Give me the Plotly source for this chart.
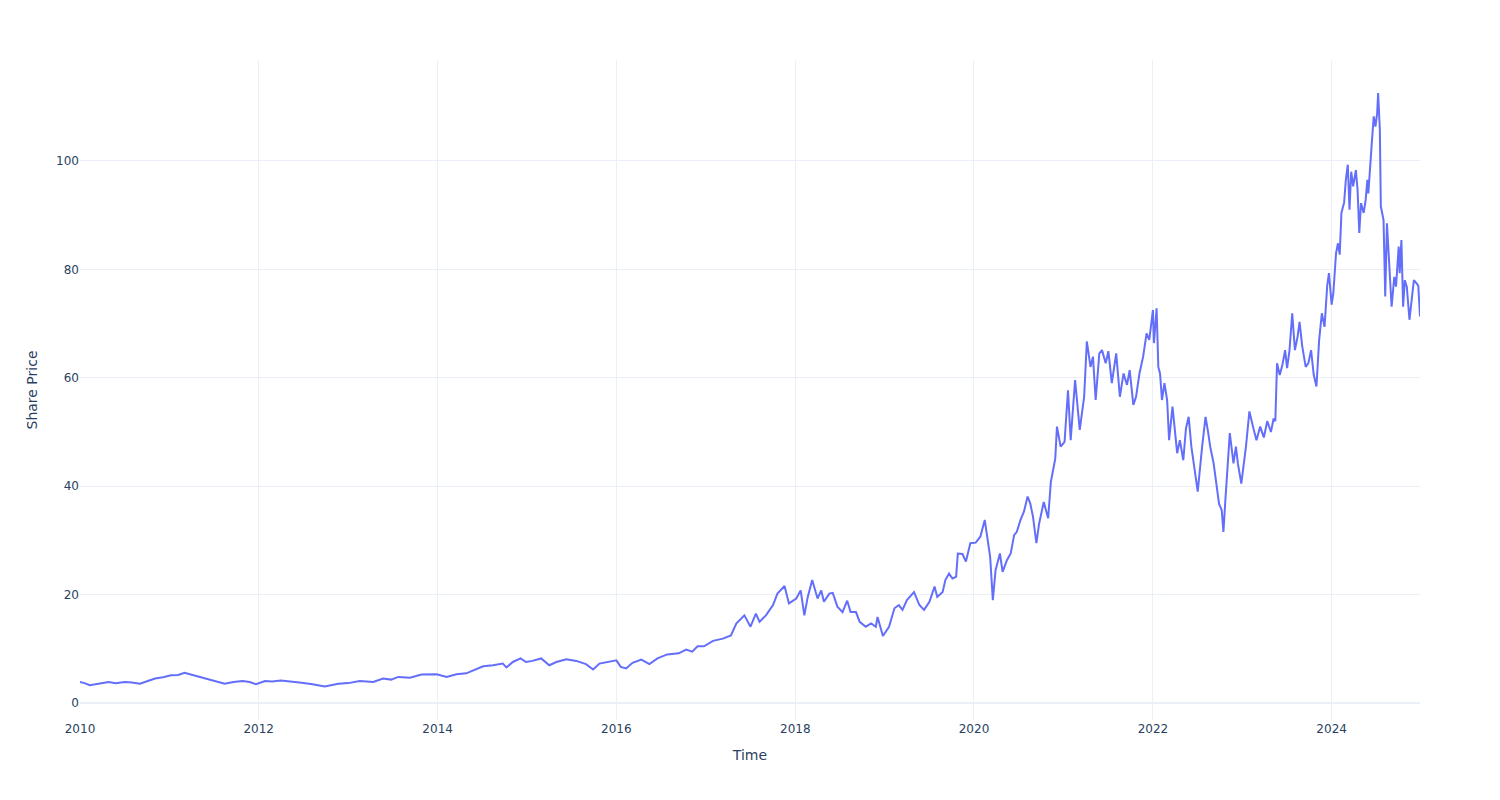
import plotly.graph_objects as go

dates = [
    "2010-01-01", "2010-01-19", "2010-02-10", "2010-03-15", "2010-04-28", "2010-05-27",
    "2010-07-02", "2010-08-01", "2010-09-03", "2010-10-05", "2010-11-04", "2010-12-06",
    "2011-01-08", "2011-02-06", "2011-03-04", "2011-04-10", "2011-05-08", "2011-06-07",
    "2011-07-09", "2011-08-15", "2011-09-20", "2011-10-27", "2011-11-25", "2011-12-21",
    "2012-01-27", "2012-02-25", "2012-04-01", "2012-05-15", "2012-06-24", "2012-08-08",
    "2012-09-27", "2012-11-21", "2013-01-01", "2013-02-17", "2013-04-13", "2013-05-23",
    "2013-06-25", "2013-07-24", "2013-09-10", "2013-10-27", "2013-12-28", "2014-02-07",
    "2014-03-19", "2014-04-28", "2014-05-23", "2014-07-06", "2014-08-15", "2014-09-24",
    "2014-10-09", "2014-11-04", "2014-12-06", "2014-12-28", "2015-01-23", "2015-02-28",
    "2015-04-02", "2015-05-01", "2015-06-11", "2015-07-21", "2015-08-30", "2015-09-28",
    "2015-10-24", "2015-12-03", "2016-01-01", "2016-01-19", "2016-02-10", "2016-03-07",
    "2016-04-12", "2016-05-15", "2016-06-17", "2016-07-27", "2016-09-12", "2016-10-12",
    "2016-11-06", "2016-11-28", "2016-12-24", "2017-01-30", "2017-03-11", "2017-04-13",
    "2017-05-05", "2017-06-07", "2017-07-02", "2017-07-24", "2017-08-08", "2017-09-03",
    "2017-10-02", "2017-10-20", "2017-11-18", "2017-12-06", "2018-01-05", "2018-01-23",
    "2018-02-07", "2018-02-21", "2018-03-11", "2018-04-02", "2018-04-17", "2018-04-28",
    "2018-05-20", "2018-06-03", "2018-06-22", "2018-07-13", "2018-08-01", "2018-08-15",
    "2018-09-06", "2018-09-21", "2018-10-16", "2018-11-07", "2018-11-26", "2018-12-03",
    "2018-12-25", "2019-01-19", "2019-02-10", "2019-02-28", "2019-03-15", "2019-04-02",
    "2019-05-01", "2019-05-23", "2019-06-11", "2019-07-03", "2019-07-24", "2019-08-04",
    "2019-08-26", "2019-09-06", "2019-09-21", "2019-10-05", "2019-10-20", "2019-10-27",
    "2019-11-15", "2019-11-29", "2019-12-17", "2020-01-08", "2020-01-27", "2020-02-14",
    "2020-02-25", "2020-03-07", "2020-03-18", "2020-03-29", "2020-04-16", "2020-04-27",
    "2020-05-15", "2020-05-30", "2020-06-13", "2020-06-24", "2020-07-09", "2020-07-23",
    "2020-08-07", "2020-08-18", "2020-08-29", "2020-09-12", "2020-09-23", "2020-10-12",
    "2020-10-30", "2020-11-10", "2020-11-28", "2020-12-05", "2020-12-20", "2021-01-05",
    "2021-01-19", "2021-01-30", "2021-02-17", "2021-02-25", "2021-03-08", "2021-03-26",
    "2021-04-06", "2021-04-21", "2021-05-01", "2021-05-12", "2021-05-27", "2021-06-07",
    "2021-06-22", "2021-07-03", "2021-07-17", "2021-08-04", "2021-08-19", "2021-09-03",
    "2021-09-17", "2021-09-28", "2021-10-13", "2021-10-24", "2021-11-07", "2021-11-22",
    "2021-12-06", "2021-12-17", "2022-01-01", "2022-01-05", "2022-01-16", "2022-01-23",
    "2022-01-30", "2022-02-07", "2022-02-17", "2022-02-28", "2022-03-08", "2022-03-22",
    "2022-04-10", "2022-04-21", "2022-05-05", "2022-05-16", "2022-05-27", "2022-06-07",
    "2022-06-18", "2022-07-03", "2022-07-21", "2022-08-04", "2022-08-15", "2022-08-23",
    "2022-09-06", "2022-09-21", "2022-09-28", "2022-10-09", "2022-10-16", "2022-10-24",
    "2022-11-04", "2022-11-11", "2022-11-26", "2022-12-06", "2022-12-14", "2022-12-28",
    "2023-01-16", "2023-01-30", "2023-02-17", "2023-02-28", "2023-03-15", "2023-03-30",
    "2023-04-13", "2023-04-28", "2023-05-09", "2023-05-16", "2023-05-23", "2023-06-03",
    "2023-06-14", "2023-06-25", "2023-07-03", "2023-07-13", "2023-07-24", "2023-08-04",
    "2023-08-15", "2023-08-23", "2023-09-03", "2023-09-17", "2023-09-28", "2023-10-09",
    "2023-10-20", "2023-10-31", "2023-11-11", "2023-11-22", "2023-12-03", "2023-12-14",
    "2023-12-21", "2024-01-01", "2024-01-08", "2024-01-19", "2024-01-27", "2024-02-03",
    "2024-02-10", "2024-02-21", "2024-02-28", "2024-03-07", "2024-03-14", "2024-03-21",
    "2024-03-29", "2024-04-09", "2024-04-16", "2024-04-23", "2024-04-30", "2024-05-11",
    "2024-05-19", "2024-05-26", "2024-05-30", "2024-06-06", "2024-06-13", "2024-06-21",
    "2024-06-28", "2024-07-05", "2024-07-09", "2024-07-16", "2024-07-20", "2024-07-31",
    "2024-08-07", "2024-08-14", "2024-08-25", "2024-09-02", "2024-09-13", "2024-09-20",
    "2024-10-01", "2024-10-05", "2024-10-12", "2024-10-19", "2024-10-26", "2024-11-03",
    "2024-11-14", "2024-11-25", "2024-12-02", "2024-12-13", "2024-12-20", "2024-12-27",
]

share_price = [
    3.9, 3.7, 3.3, 3.6, 3.9, 3.7,
    3.9, 3.8, 3.6, 4.1, 4.55, 4.8,
    5.15, 5.2, 5.6, 5.15, 4.8, 4.4,
    4.1, 3.6, 3.9, 4.1, 3.9, 3.5,
    4.1, 4.0, 4.2, 3.9, 3.75, 3.5,
    3.1, 3.6, 3.7, 4.1, 3.9, 4.55,
    4.35, 4.85, 4.7, 5.3, 5.35, 4.85,
    5.35, 5.5, 6.0, 6.8, 7.0, 7.3,
    6.6, 7.6, 8.25, 7.6, 7.8, 8.25,
    7.0, 7.6, 8.1, 7.8, 7.2, 6.2,
    7.3, 7.6, 7.9, 6.7, 6.4, 7.45,
    8.05, 7.2, 8.25, 9.0, 9.2, 9.9,
    9.5, 10.5, 10.5, 11.5, 11.9, 12.5,
    14.7, 16.2, 14.1, 16.5, 15.0, 16.2,
    18.1, 20.2, 21.6, 18.4, 19.3, 20.8,
    16.2, 19.6, 22.7, 19.3, 20.8, 18.7,
    20.2, 20.35, 17.8, 16.8, 18.9, 16.8,
    16.8, 15.0, 14.1, 14.7, 14.1, 15.9,
    12.4, 14.1, 17.5, 18.1, 17.2, 19.0,
    20.5, 18.1, 17.2, 18.7, 21.5, 19.6,
    20.5, 22.7, 23.9, 23.0, 23.3, 27.6,
    27.5, 26.1, 29.5, 29.6, 30.7, 33.8,
    30.7, 27.0, 19.0, 24.5, 27.6, 24.2,
    26.4, 27.6, 31.0, 31.6, 33.8, 35.3,
    38.1, 36.8, 34.4, 29.5, 33.1, 37.1,
    34.1, 40.8, 45.1, 51.0, 47.3, 48.2,
    57.7, 48.5, 59.6, 55.9, 50.4, 56.5,
    66.7, 62.0, 63.9, 55.9, 64.5, 65.1,
    62.7, 64.9, 59.0, 64.5, 56.5, 60.8,
    58.7, 61.4, 55.0, 56.5, 60.8, 63.9,
    68.2, 67.0, 72.5, 66.4, 72.8, 62.0,
    60.8, 55.9, 59.0, 55.9, 48.5, 54.7,
    46.1, 48.5, 44.8, 50.7, 52.8, 47.3,
    43.6, 39.0, 47.3, 52.8, 49.8, 47.3,
    44.2, 39.3, 36.8, 35.6, 31.6, 37.5,
    44.2, 49.8, 44.2, 47.3, 44.2, 40.5,
    47.3, 53.8, 50.4, 48.5, 51.0, 49.0,
    52.0, 50.0, 52.5, 52.0, 62.7, 60.5,
    62.4, 65.1, 61.8, 65.1, 71.9, 65.1,
    67.6, 70.3, 65.8, 62.0, 62.7, 65.1,
    60.5, 58.4, 67.0, 71.9, 69.4, 77.0,
    79.3, 73.5, 75.6, 83.0, 84.8, 82.7,
    90.4, 92.3, 96.5, 99.3, 91.0, 98.0,
    95.3, 98.3, 94.6, 86.7, 92.2, 90.4,
    92.8, 96.5, 94.0, 99.6, 103.3, 108.2,
    106.3, 108.8, 112.5, 105.7, 91.6, 89.1,
    75.0, 88.5, 78.0, 73.1, 78.6, 76.8,
    84.2, 79.3, 85.4, 73.1, 78.0, 76.8,
    70.7, 75.0, 78.0, 77.4, 77.0, 71.3,
]

fig = go.Figure()
fig.add_trace(go.Scatter(
    x=dates, y=share_price, mode="lines",
    line=dict(color="#636efa", width=2),
    name="Share Price",
))

fig.update_layout(
    template="plotly_white",
    width=1500, height=800,
    font=dict(family="DejaVu Sans"),
    margin=dict(l=80, r=80, t=60, b=80),
    xaxis=dict(title=dict(text="Time"), dtick="M24", tickformat="%Y"),
    yaxis=dict(title=dict(text="Share Price"), range=[-3.1, 118.6]),
    showlegend=False,
)

fig.write_html("out.html")
